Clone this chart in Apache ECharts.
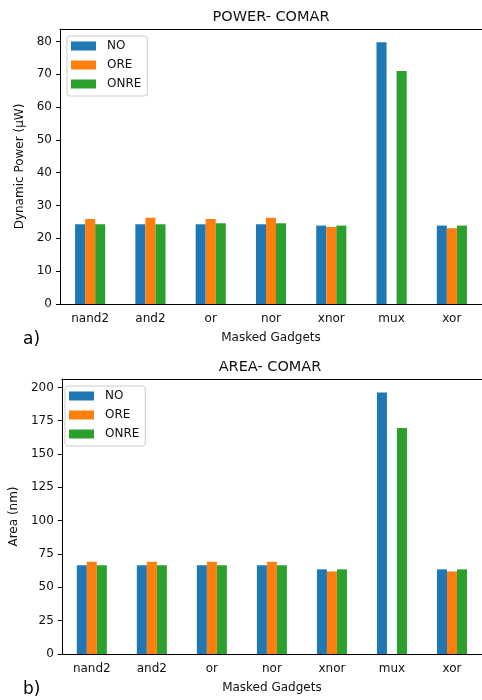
<!DOCTYPE html>
<html>
<head>
<meta charset="utf-8">
<script src="https://cdn.jsdelivr.net/npm/echarts@6/dist/echarts.min.js"></script>
<style>
  html, body { margin: 0; padding: 0; background: #fff; }
  #chart { width: 482px; height: 700px; }
</style>
</head>
<body>
<div id="chart"></div>
<script>
var categories = ['nand2', 'and2', 'or', 'nor', 'xnor', 'mux', 'xor'];
var seriesNames = ['NO', 'ORE', 'ONRE'];
var colors = ['#1f77b4', '#ff7f0e', '#2ca02c'];

// a) dynamic power (µW)
var powerNO   = [24.3, 24.3, 24.3, 24.3, 23.9, 79.8, 23.9];
var powerORE  = [25.9, 26.3, 25.9, 26.3, 23.5, 0, 23.1];
var powerONRE = [24.3, 24.3, 24.6, 24.6, 23.9, 71.0, 23.9];
var powerTicks = [0, 10, 20, 30, 40, 50, 60, 70, 80];

// b) area (nm)
var areaNO   = [66.5, 66.5, 66.5, 66.5, 63.5, 196.2, 63.5];
var areaORE  = [69.2, 69.2, 69.2, 69.2, 61.9, 0, 61.9];
var areaONRE = [66.5, 66.5, 66.5, 66.5, 63.5, 169.5, 63.5];
var areaTicks = [0, 25, 50, 75, 100, 125, 150, 175, 200];

var font = 'DejaVu Sans';
var ink = '#111';

function xAxisFor(idx) {
    return {
        type: 'category',
        gridIndex: idx,
        data: categories,
        name: 'Masked Gadgets',
        nameLocation: 'middle',
        nameGap: 28,
        nameTextStyle: { fontFamily: font, fontSize: 12, color: ink },
        axisLine: { lineStyle: { color: '#000', width: 1 } },
        axisTick: { alignWithLabel: true, length: 4, lineStyle: { color: '#000' } },
        axisLabel: { fontFamily: font, fontSize: 12, color: ink, margin: 9 },
        splitLine: { show: false }
    };
}

// top spine only (matplotlib frame, right side falls outside the picture)
function topSpineFor(idx) {
    return {
        type: 'category',
        gridIndex: idx,
        position: 'top',
        data: categories,
        axisLine: { show: true, lineStyle: { color: '#000', width: 1 } },
        axisTick: { show: false },
        axisLabel: { show: false },
        splitLine: { show: false }
    };
}

function yAxisFor(idx, ticks, max, interval, name, gap) {
    return {
        type: 'value',
        gridIndex: idx,
        min: 0,
        max: max,
        interval: interval,
        name: name,
        nameLocation: 'middle',
        nameGap: gap,
        nameTextStyle: { fontFamily: font, fontSize: 12, color: ink },
        axisLine: { show: true, lineStyle: { color: '#000', width: 1 } },
        axisTick: { show: true, length: 4, customValues: ticks, lineStyle: { color: '#000' } },
        axisLabel: { fontFamily: font, fontSize: 12, color: ink, margin: 8, customValues: ticks },
        splitLine: { show: false }
    };
}

function barSeries(name, data, i, axisIdx) {
    return {
        name: name,
        type: 'bar',
        xAxisIndex: axisIdx,
        yAxisIndex: axisIdx,
        data: data,
        barGap: '0%',
        barCategoryGap: '50%',
        itemStyle: { color: colors[i] },
        animation: false
    };
}

function legendFor(left, top) {
    return {
        data: seriesNames,
        orient: 'vertical',
        left: left,
        top: top,
        icon: 'rect',
        itemWidth: 25,
        itemHeight: 9,
        itemGap: 7,
        padding: [4, 6, 6, 4],
        backgroundColor: '#fff',
        borderColor: '#ccc',
        borderWidth: 1,
        borderRadius: 3,
        textStyle: { fontFamily: font, fontSize: 12, color: ink, lineHeight: 12, padding: [0, 0, 0, 6] }
    };
}

var chart = echarts.init(document.getElementById('chart'), null, { renderer: 'canvas' });
chart.setOption({
    animation: false,
    color: colors,
    grid: [
        { left: 60, top: 29, width: 422, height: 275 },
        { left: 58, top: 379, width: 424, height: 275 }
    ],
    legend: [
        legendFor(67, 36),
        legendFor(65, 386)
    ],
    xAxis: [xAxisFor(0), xAxisFor(1), topSpineFor(0), topSpineFor(1)],
    yAxis: [
        yAxisFor(0, powerTicks, 83.8, 10, 'Dynamic Power (µW)', 33),
        yAxisFor(1, areaTicks, 206.3, 25, 'Area (nm)', 38)
    ],
    series: [
        barSeries(seriesNames[0], powerNO, 0, 0),
        barSeries(seriesNames[1], powerORE, 1, 0),
        barSeries(seriesNames[2], powerONRE, 2, 0),
        barSeries(seriesNames[0], areaNO, 0, 1),
        barSeries(seriesNames[1], areaORE, 1, 1),
        barSeries(seriesNames[2], areaONRE, 2, 1)
    ],
    graphic: [
        { type: 'text', x: 271, y: 17, style: { text: 'POWER- COMAR', fontFamily: font, fontSize: 14.5, fill: ink, textAlign: 'center', textVerticalAlign: 'middle' } },
        { type: 'text', x: 270, y: 367, style: { text: 'AREA- COMAR', fontFamily: font, fontSize: 14.5, fill: ink, textAlign: 'center', textVerticalAlign: 'middle' } },
        { type: 'text', x: 23, y: 340, style: { text: 'a)', fontFamily: font, fontSize: 17, fill: '#000', textAlign: 'left', textVerticalAlign: 'middle' } },
        { type: 'text', x: 23, y: 690, style: { text: 'b)', fontFamily: font, fontSize: 17, fill: '#000', textAlign: 'left', textVerticalAlign: 'middle' } }
    ]
});
</script>
</body>
</html>
